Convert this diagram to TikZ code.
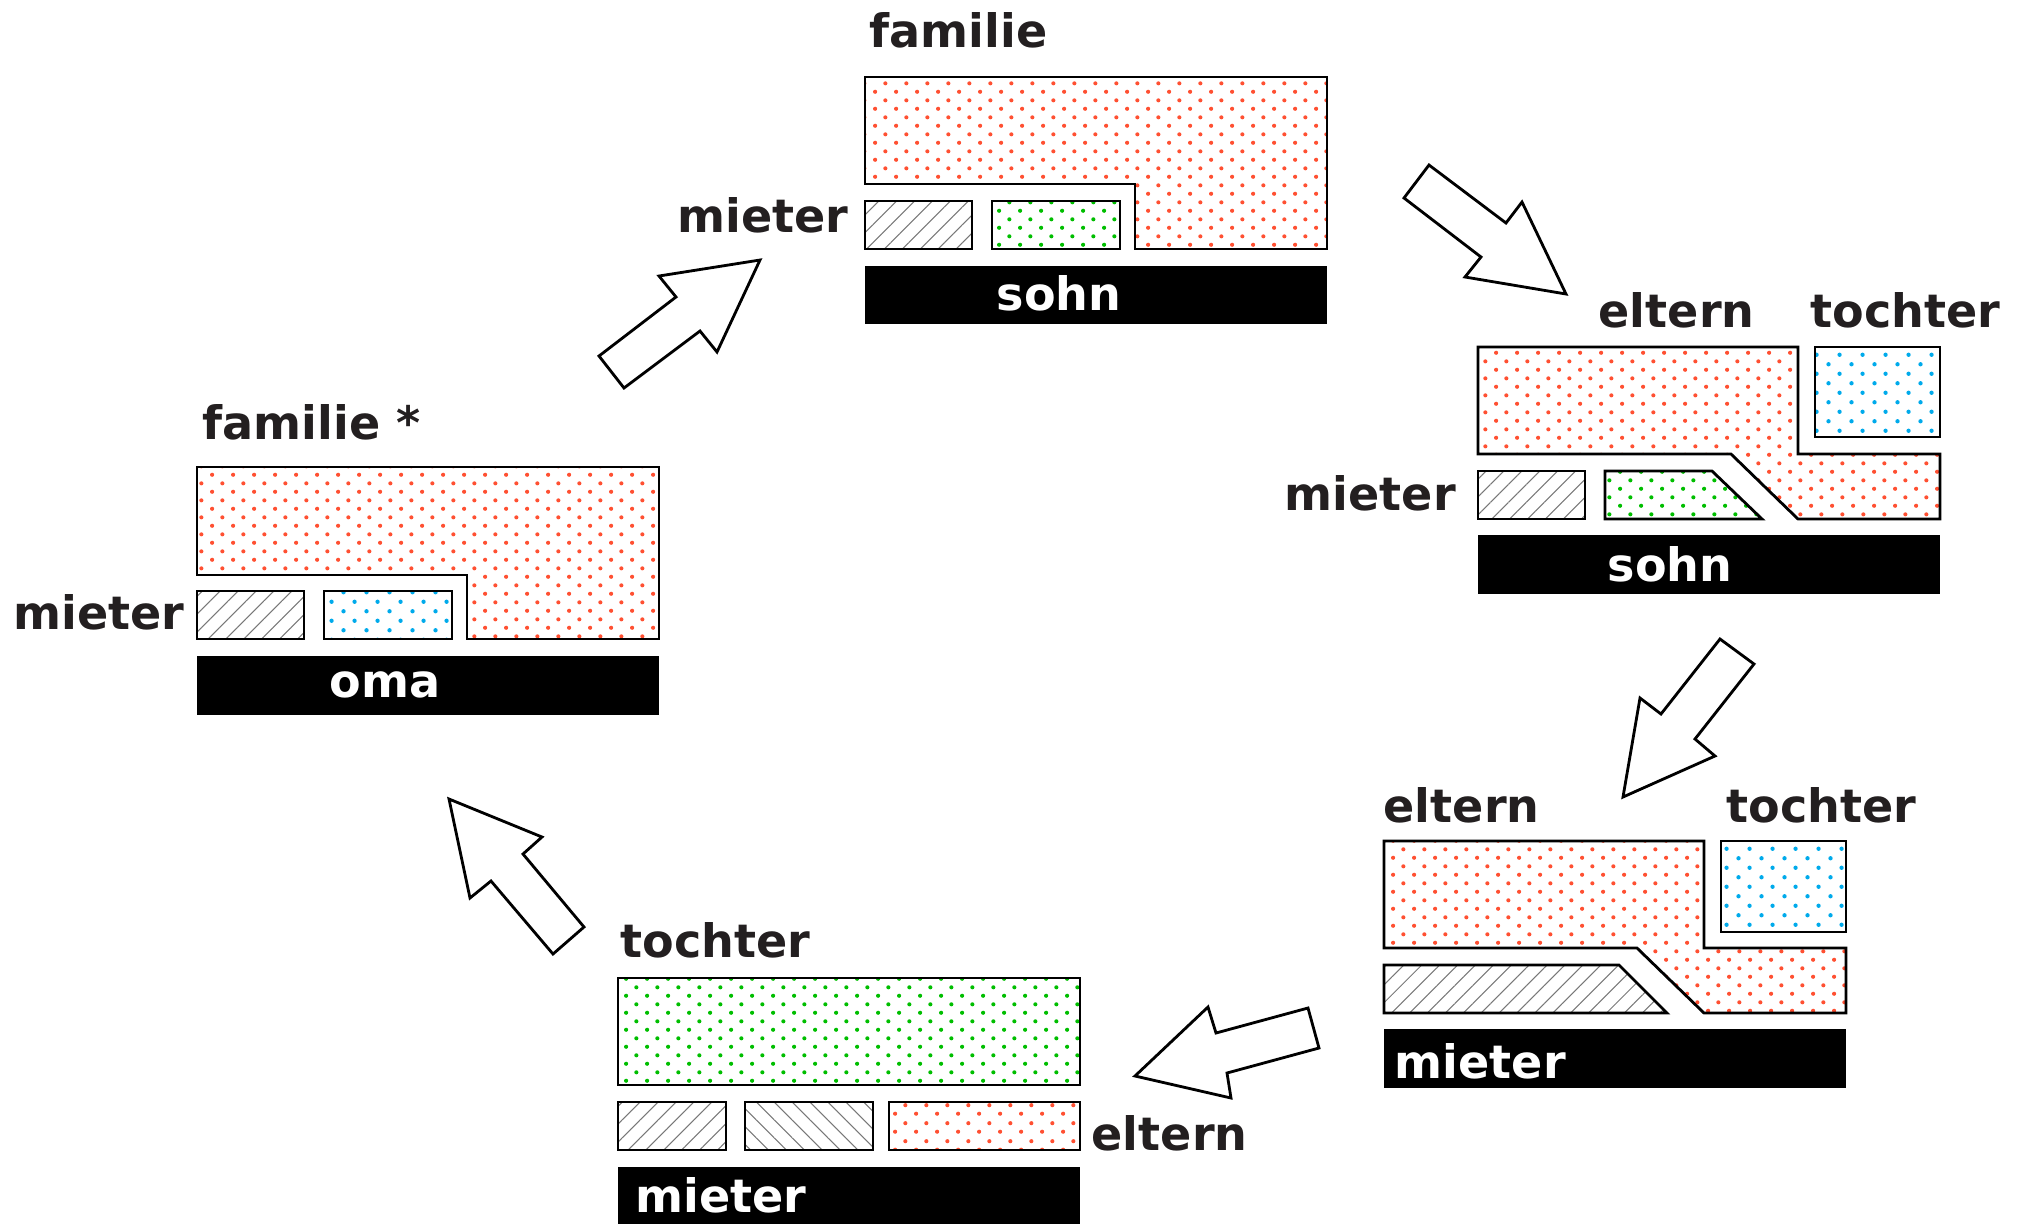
\documentclass[tikz,border=0pt]{standalone}
\usepackage{fontspec}
\setmainfont{DejaVu Sans}
\usetikzlibrary{patterns,patterns.meta}
\definecolor{dotred}{RGB}{255,80,50}
\definecolor{dotgreen}{RGB}{0,190,0}
\definecolor{dotblue}{RGB}{0,170,235}
\definecolor{ink}{RGB}{35,31,32}
\definecolor{hatchgray}{RGB}{120,120,120}

\tikzdeclarepattern{
  name=hexdots,
  type=uncolored,
  bounding box={(0pt,0pt) and (5.89pt,4.95pt)},
  tile size={(5.89pt,4.95pt)},
  code={
    \pgfpathcircle{\pgfpoint{1.47pt}{1.24pt}}{0.6pt}
    \pgfpathcircle{\pgfpoint{4.42pt}{3.71pt}}{0.6pt}
    \pgfusepath{fill}
  }
}
\tikzdeclarepattern{
  name=hexdotsb,
  type=uncolored,
  bounding box={(0pt,0pt) and (6.4pt,5.4pt)},
  tile size={(6.4pt,5.4pt)},
  code={
    \pgfpathcircle{\pgfpoint{1.6pt}{1.35pt}}{0.62pt}
    \pgfpathcircle{\pgfpoint{4.8pt}{4.05pt}}{0.62pt}
    \pgfusepath{fill}
  }
}

\tikzset{
  txt/.style={font=\fontsize{13.1}{15}\selectfont\bfseries, inner sep=0pt},
  lbl/.style={txt, text=ink, anchor=base west},
  bartxt/.style={txt, text=white},
  outline/.style={draw=black, line width=0.8pt, line join=miter},
  reddots/.style={outline, pattern=hexdots, pattern color=dotred},
  greendots/.style={outline, pattern=hexdots, pattern color=dotgreen},
  bluedots/.style={outline, pattern=hexdotsb, pattern color=dotblue},
  hatchfwd/.style={outline, pattern={Lines[angle=45,distance=3.6pt,line width=0.3pt]}, pattern color=hatchgray},
  hatchbwd/.style={outline, pattern={Lines[angle=-45,distance=3.6pt,line width=0.3pt]}, pattern color=hatchgray},
  bar/.style={fill=black},
  blockarrow/.style={draw=black, line width=0.8pt, fill=white, line join=miter}
}

\begin{document}
\begin{tikzpicture}[x=0.01cm, y=-0.01cm]
\useasboundingbox (0,0) rectangle (2026,1223);

% ---------- Block A (familie *, oma) ----------
\path[reddots] (197,467) -- (659,467) -- (659,639) -- (467,639) -- (467,575) -- (197,575) -- cycle;
\path[hatchfwd] (197,591) rectangle (304,639);
\path[bluedots] (324,591) rectangle (452,639);
\path[bar] (197,656) rectangle (659,715);
\node[lbl] (famA) at (202,439) {familie *};
\node[lbl] (mietA) at (13,629) {mieter};
\node[bartxt, anchor=base] (omaA) at (385,697) {oma};

% ---------- Block B (familie, sohn) ----------
\path[reddots] (865,77) -- (1327,77) -- (1327,249) -- (1135,249) -- (1135,184) -- (865,184) -- cycle;
\path[hatchfwd] (865,201) rectangle (972,249);
\path[greendots] (992,201) rectangle (1120,249);
\path[bar] (865,266) rectangle (1327,324);
\node[lbl] (famB) at (869,47) {familie};
\node[lbl] (mietB) at (677,232) {mieter};
\node[bartxt, anchor=base] (sohnB) at (1059,310) {sohn};

% ---------- Block C (eltern, tochter, sohn) ----------
\path[reddots] (1478,347) -- (1798,347) -- (1798,454) -- (1940,454) -- (1940,519) -- (1798,519) -- (1731,454) -- (1478,454) -- cycle;
\path[bluedots] (1815,347) rectangle (1940,437);
\path[hatchfwd] (1478,471) rectangle (1585,519);
\path[greendots] (1605,471) -- (1712,471) -- (1762,519) -- (1605,519) -- cycle;
\path[bar] (1478,535) rectangle (1940,594);
\node[lbl] (eltC) at (1598,327) {eltern};
\node[lbl] (tochC) at (1810,327) {tochter};
\node[lbl] (mietC) at (1284,510) {mieter};
\node[bartxt, anchor=base] (sohnC) at (1670,581) {sohn};

% ---------- Block D (eltern, tochter, mieter) ----------
\path[reddots] (1384,841) -- (1704,841) -- (1704,948) -- (1846,948) -- (1846,1013) -- (1704,1013) -- (1637,948) -- (1384,948) -- cycle;
\path[bluedots] (1721,841) rectangle (1846,932);
\path[hatchfwd] (1384,965) -- (1619,965) -- (1667,1013) -- (1384,1013) -- cycle;
\path[bar] (1384,1029) rectangle (1846,1088);
\node[lbl] (eltD) at (1383,822) {eltern};
\node[lbl] (tochD) at (1726,822) {tochter};
\node[bartxt, anchor=base west] (mietD) at (1394,1078) {mieter};

% ---------- Block E (tochter, eltern, mieter) ----------
\path[greendots] (618,978) rectangle (1080,1085);
\path[hatchfwd] (618,1102) rectangle (726,1150);
\path[hatchbwd] (745,1102) rectangle (873,1150);
\path[reddots] (889,1102) rectangle (1080,1150);
\path[bar] (618,1167) rectangle (1080,1230);
\node[lbl] (tochE) at (620,957) {tochter};
\node[lbl] (eltE) at (1091,1150) {eltern};
\node[bartxt, anchor=base west] (mietE) at (635,1212) {mieter};

% ---------- Block arrows ----------
\path[blockarrow] (599,356) -- (676,297) -- (659,276) -- (760,260) -- (717,352) -- (700,331) -- (624,388) -- cycle;
\path[blockarrow] (1429,165) -- (1506,223) -- (1522,202) -- (1566,294) -- (1465,277) -- (1481,257) -- (1404,198) -- cycle;
\path[blockarrow] (1720,639) -- (1754,664) -- (1695,739) -- (1715,756) -- (1623,797) -- (1640,698) -- (1661,714) -- cycle;
\path[blockarrow] (1308,1008) -- (1319,1048) -- (1227,1073) -- (1231,1098) -- (1135,1076) -- (1208,1007) -- (1216,1033) -- cycle;
\path[blockarrow] (449,799) -- (542,837) -- (523,854) -- (584,927) -- (553,954) -- (491,881) -- (470,898) -- cycle;
\end{tikzpicture}
\end{document}
